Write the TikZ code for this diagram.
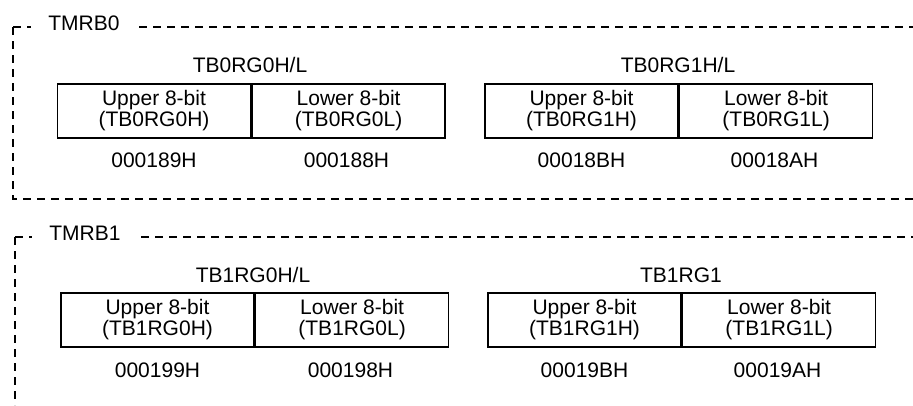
\documentclass[tikz,border=0pt]{standalone}
\usepackage{fontspec}
\setmainfont{Liberation Sans}
\begin{document}
\begin{tikzpicture}[x=1pt,y=-1pt,
  every node/.style={font=\fontsize{21}{21}\selectfont},
  frame/.style={line width=1.6pt,dash pattern=on 8pt off 6pt},
  regbox/.style={draw,line width=1.6pt,minimum width=193pt,minimum height=54pt,inner sep=0pt,align=center},
  lbl/.style={anchor=base,inner sep=0pt},
  grp/.style={anchor=base,fill=white,inner xsep=17pt,inner ysep=2pt}]
\useasboundingbox (0,0) rectangle (913,405);
% ---------- TMRB0 ----------
\draw[frame] (13,27) -- (913,27);
\draw[frame] (13,27) -- (13,199) -- (913,199);
\node[grp] (g0) at (84,30) {TMRB0};
\node[lbl] (t00) at (250,72) {TB0RG0H/L};
\node[lbl] (t01) at (678,72) {TB0RG1H/L};
\node[regbox] (b00u) at (154,111) {Upper 8-bit\\(TB0RG0H)};
\node[regbox,anchor=west] (b00l) at (b00u.east) {Lower 8-bit\\(TB0RG0L)};
\node[regbox] (b01u) at (581.5,111) {Upper 8-bit\\(TB0RG1H)};
\node[regbox,anchor=west] (b01l) at (b01u.east) {Lower 8-bit\\(TB0RG1L)};
\node[lbl] (a00u) at (154,167) {000189H};
\node[lbl] (a00l) at (346.5,167) {000188H};
\node[lbl] (a01u) at (581.5,167) {00018BH};
\node[lbl] (a01l) at (774.5,167) {00018AH};
% ---------- TMRB1 ----------
\draw[frame] (15,237) -- (913,237);
\draw[frame] (15,237) -- (15,405);
\node[grp] (g1) at (85,240) {TMRB1};
\node[lbl] (t10) at (253,282) {TB1RG0H/L};
\node[lbl] (t11) at (681,282) {TB1RG1};
\node[regbox] (b10u) at (157.5,320) {Upper 8-bit\\(TB1RG0H)};
\node[regbox,anchor=west] (b10l) at (b10u.east) {Lower 8-bit\\(TB1RG0L)};
\node[regbox] (b11u) at (584.5,320) {Upper 8-bit\\(TB1RG1H)};
\node[regbox,anchor=west] (b11l) at (b11u.east) {Lower 8-bit\\(TB1RG1L)};
\node[lbl] (a10u) at (157.5,377) {000199H};
\node[lbl] (a10l) at (350.5,377) {000198H};
\node[lbl] (a11u) at (584.5,377) {00019BH};
\node[lbl] (a11l) at (777.5,377) {00019AH};
\end{tikzpicture}
\end{document}
